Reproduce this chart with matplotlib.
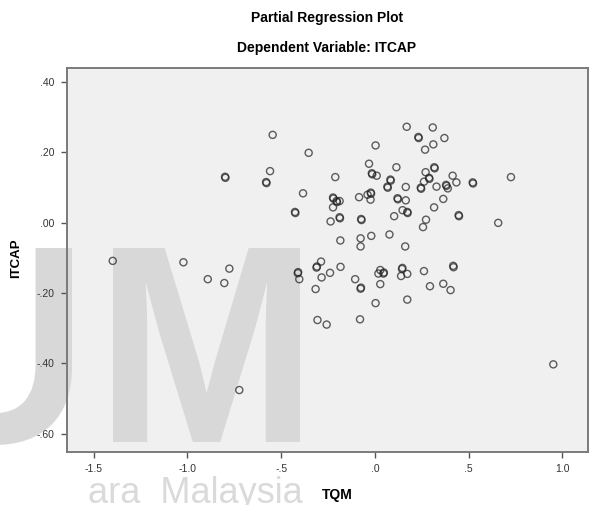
import matplotlib
matplotlib.use("Agg")
import matplotlib.pyplot as plt
from matplotlib.patches import Rectangle, PathPatch
from matplotlib.textpath import TextPath
from matplotlib.font_manager import FontProperties
from matplotlib.transforms import Affine2D
import numpy as np

# partial residuals
tqm = [-1.398, -1.021, -0.891, -0.803, -0.776, -0.723, -0.799, -0.797,
       -0.545, -0.559, -0.580, -0.578, -0.353, -0.383, -0.426, -0.424,
       -0.411, -0.409, -0.403, -0.311, -0.309, -0.287, -0.284, -0.316,
       -0.306, -0.257, -0.239, -0.183, -0.105, -0.076, -0.074, -0.079,
       0.004, 0.029, 0.019, 0.046, 0.048, 0.029, 0.145, 0.147,
       0.140, 0.173, 0.173, 0.262, 0.294, 0.365, 0.404, 0.418,
       0.420, 0.952,
       0.170, 0.309, 0.232, 0.234, 0.371, 0.312, 0.268, 0.004,
       -0.031, 0.115, 0.317, 0.319, 0.271, -0.016, -0.014, 0.010,
       -0.211, 0.415, 0.726, 0.083, 0.085, 0.289, 0.291, 0.262,
       0.435, 0.522, 0.524, 0.380, 0.382, 0.067, 0.069, 0.165,
       0.245, 0.247, 0.329, 0.389, -0.223, -0.221, -0.204, -0.202,
       -0.188, -0.084, -0.039, -0.022, -0.020, -0.023, 0.121, 0.123,
       0.165, 0.365, -0.223, 0.316, 0.103, 0.148, 0.173, 0.175,
       -0.188, -0.186, -0.073, -0.071, 0.447, 0.449, -0.236, 0.273,
       0.257, 0.658, -0.184, -0.076, -0.019, 0.078, -0.076, 0.162]
itcap = [-0.109, -0.113, -0.161, -0.172, -0.131, -0.476, 0.130, 0.127,
         0.249, 0.146, 0.115, 0.112, 0.198, 0.083, 0.030, 0.027,
         -0.144, -0.141, -0.161, -0.128, -0.125, -0.111, -0.156, -0.189,
         -0.277, -0.290, -0.143, -0.126, -0.161, -0.188, -0.185, -0.275,
         -0.229, -0.135, -0.145, -0.145, -0.142, -0.175, -0.132, -0.129,
         -0.152, -0.146, -0.219, -0.138, -0.181, -0.174, -0.192, -0.123,
         -0.127, -0.403,
         0.272, 0.270, 0.243, 0.240, 0.240, 0.222, 0.207, 0.219,
         0.167, 0.157, 0.157, 0.154, 0.143, 0.140, 0.137, 0.133,
         0.129, 0.133, 0.129, 0.122, 0.119, 0.127, 0.124, 0.116,
         0.114, 0.114, 0.111, 0.107, 0.104, 0.102, 0.099, 0.101,
         0.099, 0.096, 0.102, 0.097, 0.071, 0.068, 0.061, 0.058,
         0.061, 0.072, 0.079, 0.085, 0.082, 0.065, 0.069, 0.066,
         0.063, 0.067, 0.043, 0.043, 0.018, 0.035, 0.030, 0.027,
         0.015, 0.012, 0.010, 0.007, 0.021, 0.018, 0.003, 0.008,
         -0.013, -0.001, -0.051, -0.045, -0.038, -0.034, -0.068, -0.068]

x_ticks = [-1.5, -1.0, -0.5, 0.0, 0.5, 1.0]
x_labels = ["-1.5", "-1.0", "-.5", ".0", ".5", "1.0"]
y_ticks = [0.40, 0.20, 0.00, -0.20, -0.40, -0.60]
y_labels = [".40", ".20", ".00", "-.20", "-.40", "-.60"]

plt.rcParams["font.family"] = ["Liberation Sans", "DejaVu Sans"]

W, H = 596, 505
fig = plt.figure(figsize=(W / 100, H / 100), dpi=100)
fig.patch.set_facecolor("white")

# frame in pixels: left 67, right 588, top 68, bottom 452
ax = fig.add_axes([67 / W, (H - 452) / H, (588 - 67) / W, (452 - 68) / H])
ax.set_facecolor("#f0f0f0")
ax.set_xlim(-1.642, 1.137)
ax.set_ylim(-0.652, 0.439)

# faint watermark behind the points, cut off at x=300px
clip = Rectangle((0, 0), 300 / W, 1, transform=fig.transFigure)
fp = FontProperties(family="Liberation Sans", weight="bold")


def letter(ch, x0, x1, ytop, ybot):
    tp = TextPath((0, 0), ch, prop=fp, size=100)
    bb = tp.get_extents()
    sx = (x1 - x0) / bb.width
    sy = (ybot - ytop) / bb.height
    tr = Affine2D().translate(-bb.x0, -bb.y0).scale(sx, sy).translate(x0, H - ybot)
    tr = tr + Affine2D().scale(1 / W, 1 / H) + fig.transFigure
    p = PathPatch(tp, transform=tr, facecolor="#d8d8d8", edgecolor="none",
                  zorder=0.5)
    ax.add_artist(p)
    p.set_clip_path(clip)


letter("U", -80, 72, 248, 445)
letter("M", 113, 300, 248, 442)
wm = ax.text(88 / W, 1 - 503 / H, "ara  Malaysia", transform=fig.transFigure,
             fontsize=26, color="#dadada", ha="left", va="baseline", zorder=0.5)
wm.set_clip_path(clip)

ax.scatter(tqm, itcap, s=26, facecolors="none", edgecolors="#222222",
           linewidths=1.0, alpha=0.72, zorder=3)

for side in ["left", "right", "top", "bottom"]:
    ax.spines[side].set_color("#7a7a7a")
    ax.spines[side].set_linewidth(1.4)

ax.set_xticks(x_ticks)
ax.set_xticklabels(x_labels)
ax.set_yticks(y_ticks)
ax.set_yticklabels(y_labels)
ax.tick_params(direction="out", length=4, width=1.0, color="#555555",
               labelsize=7.5, labelcolor="#333333", pad=5)

ax.set_xlabel("TQM", fontsize=10, fontweight="bold")
ax.set_ylabel("ITCAP", fontsize=9.5, fontweight="bold")
ax.xaxis.set_label_coords((337 - 67) / 521, (452 - 488) / 384)
ax.yaxis.set_label_coords((22 - 67) / 521, (452 - 258) / 384)

fig.text(327 / W, 1 - 18 / H, "Partial Regression Plot", ha="center",
         va="center", fontsize=10, fontweight="bold")
fig.text(327 / W, 1 - 48 / H, "Dependent Variable: ITCAP", ha="center",
         va="center", fontsize=10, fontweight="bold")

fig.savefig("out.png", dpi=100)
